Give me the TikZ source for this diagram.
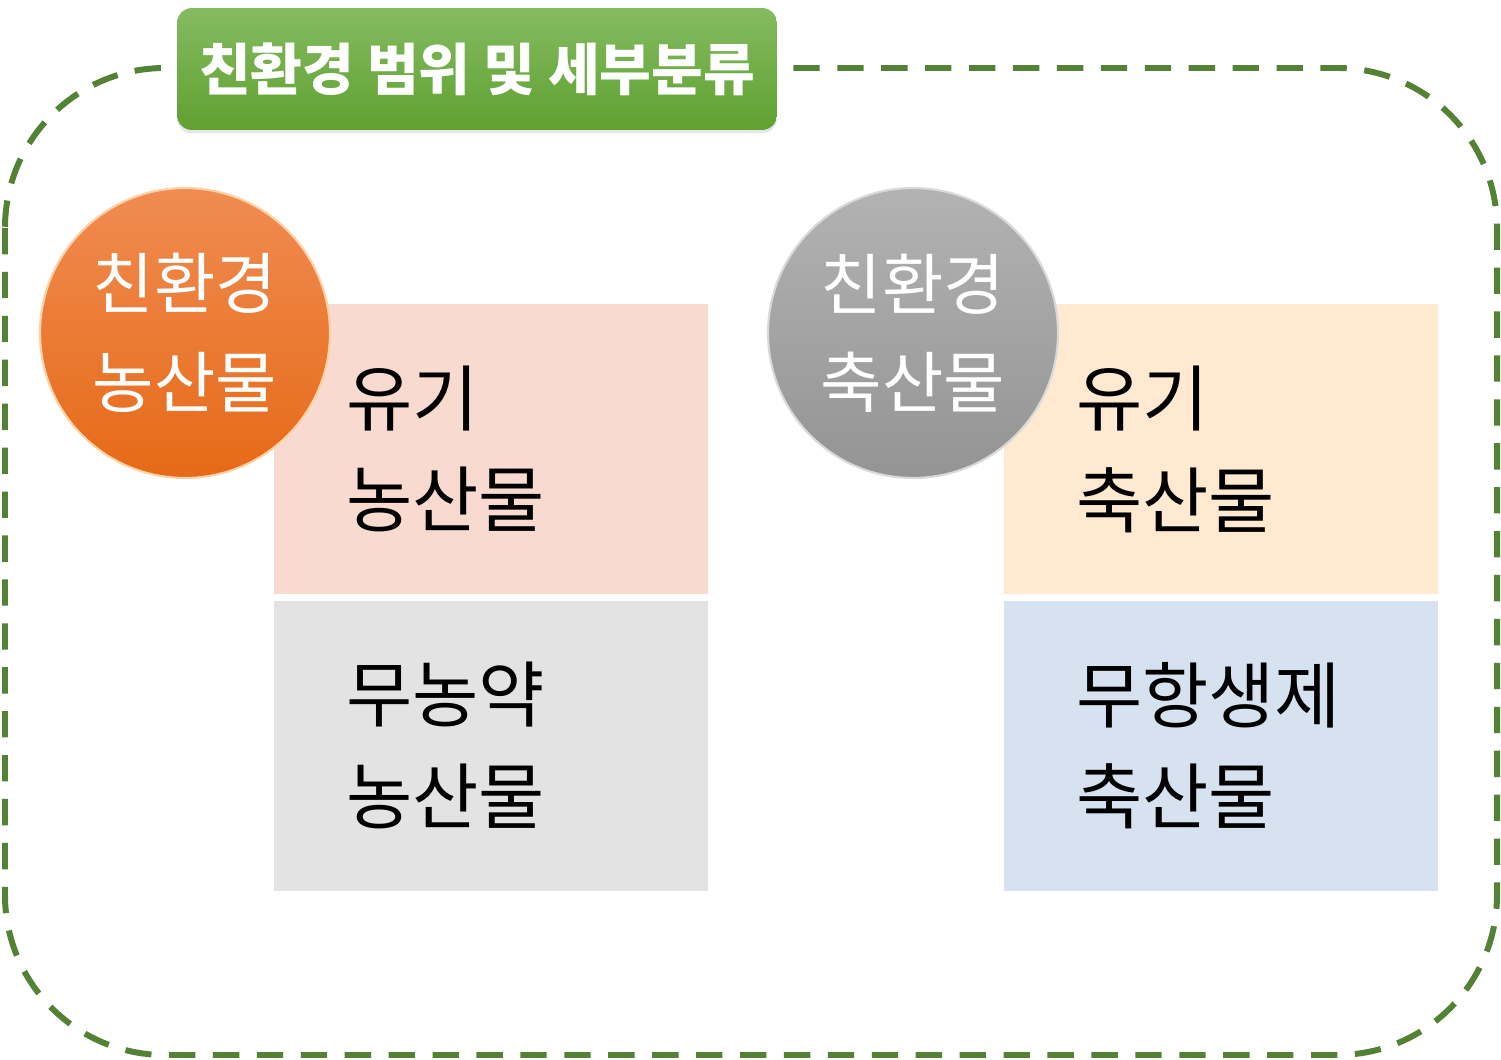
\documentclass[tikz,border=0pt]{standalone}
\usepackage{fontspec}
\setmainfont{Noto Sans CJK KR}
\usepackage{tikz}
\usetikzlibrary{positioning,shadows}

\definecolor{framegreen}{HTML}{548235}
\definecolor{titletop}{HTML}{84BB60}
\definecolor{titlebottom}{HTML}{60A131}
\definecolor{orangetop}{HTML}{F08C52}
\definecolor{orangebottom}{HTML}{E66A17}
\definecolor{pinkfill}{HTML}{F8DAD1}
\definecolor{grayfill}{HTML}{E3E3E3}
\definecolor{peachfill}{HTML}{FFE9D0}
\definecolor{bluefill}{HTML}{D7E2F1}

\tikzset{
  kind/.style={draw=white, line width=1pt, minimum height=5.84cm,
    inner xsep=1.46cm, text width=5.8cm, align=left,
    font=\fontsize{41pt}{58pt}\selectfont},
  badge/.style={circle, minimum size=5.8cm, inner sep=0pt, align=center, text=white,
    font=\fontsize{38pt}{56pt}\selectfont}
}

\begin{document}
\begin{tikzpicture}[x=0.02cm, y=-0.02cm]
\useasboundingbox (0,0) rectangle (1501,1060);
% outer dashed frame
\draw[framegreen, line width=3.4pt, dash pattern=on 15pt off 10pt, rounded corners=3.2cm]
  (5,68) rectangle (1497,1055);
% title tab
\node[rounded corners=0.3cm, minimum width=12cm, minimum height=2.44cm,
  top color=titletop, bottom color=titlebottom,
  drop shadow={shadow xshift=0pt, shadow yshift=-2pt, opacity=0.2},
  text=white, font=\fontsize{32pt}{36pt}\selectfont\bfseries]
  (title) at (477,69) {친환경 범위 및 세부분류};
% left column: farm products
\node[kind, fill=pinkfill] (organicfarm) at (491,449) {유기\\농산물};
\node[kind, fill=grayfill, below=0.06cm of organicfarm] (nopesticide) {무농약\\농산물};
\node[badge, top color=orangetop, bottom color=orangebottom,
  draw=orange!35!white, line width=1.2pt] (farm) at (185,333) {친환경\\농산물};
% right column: livestock products
\node[kind, fill=peachfill] (organicstock) at (1221,449) {유기\\축산물};
\node[kind, fill=bluefill, below=0.06cm of organicstock] (noantibiotic) {무항생제\\축산물};
\node[badge, top color=black!30, bottom color=black!42,
  draw=white!85!black, line width=1.2pt] (stock) at (913,333) {친환경\\축산물};
\end{tikzpicture}
\end{document}
